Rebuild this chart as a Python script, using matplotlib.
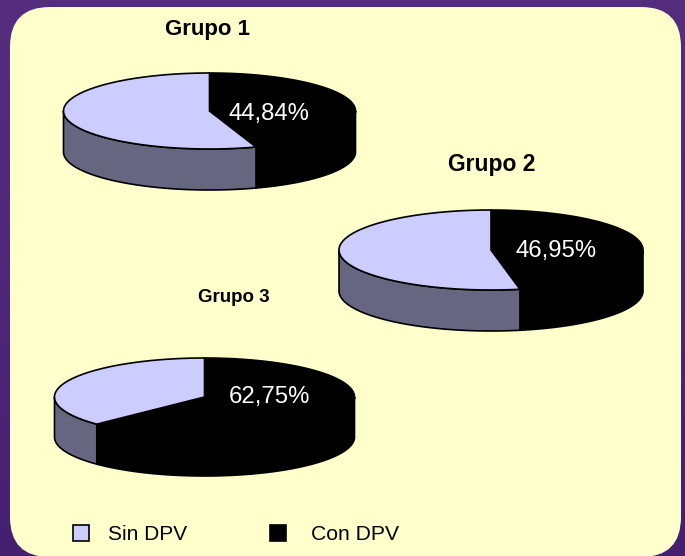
#coding:utf-8
import numpy as np
import matplotlib
matplotlib.use('Agg')
import matplotlib.pyplot as plt
from matplotlib.patches import FancyBboxPatch, Polygon, Rectangle

plt.rcParams['font.family'] = ['Liberation Sans', 'DejaVu Sans']

grupos = ['Grupo 1', 'Grupo 2', 'Grupo 3']
con_dpv = [44.84, 46.95, 62.75]
etiquetas = ['44,84%', '46,95%', '62,75%']
leyenda = ['Sin DPV', 'Con DPV']

LIGHT = '#ccccff'
SIDE = '#666680'
DARK = '#000000'

fig = plt.figure(figsize=(6.85, 5.56), dpi=100)
ax = fig.add_axes([0, 0, 1, 1])
ax.set_xlim(0, 685)
ax.set_ylim(556, 0)
ax.axis('off')

# fondo morado, un poco mas oscuro abajo
grad = np.linspace(0, 1, 256).reshape(-1, 1)
cmap = matplotlib.colors.LinearSegmentedColormap.from_list('fondo', ['#562e80', '#452070'])
ax.imshow(grad, extent=(0, 685, 556, 0), aspect='auto', cmap=cmap, zorder=0)

r = 40
panel = FancyBboxPatch((10 + r, 7 + r), 671 - 2 * r, 550 - 2 * r,
                       boxstyle='round,pad=%d,rounding_size=%d' % (r, r),
                       fc='#ffffcc', ec='none', zorder=1)
ax.add_patch(panel)


def punto(cx, cy, rx, ry, t):
    # t en grados, sentido horario desde arriba
    t = np.radians(t)
    return cx + rx * np.sin(t), cy - ry * np.cos(t)


def arco(cx, cy, rx, ry, t0, t1):
    t = np.linspace(t0, t1, 200)
    x, y = punto(cx, cy, rx, ry, t)
    return np.column_stack([x, y])


def pared(cx, cy, rx, ry, depth, t0, t1, color):
    # solo la parte delantera de la pared (90 a 270 grados)
    t0, t1 = max(t0, 90), min(t1, 270)
    if t0 >= t1:
        return
    a = arco(cx, cy, rx, ry, t0, t1)
    b = a[::-1] + [0, depth]
    ax.add_patch(Polygon(np.vstack([a, b]), closed=True, fc=color, ec='black', lw=1.2, zorder=2))


def torta(cx, cy, rx, ry, depth, pct):
    ang = pct * 3.6
    pared(cx, cy, rx, ry, depth, 0, ang, DARK)
    pared(cx, cy, rx, ry, depth, ang, 360, SIDE)
    for t0, t1, color in [(0, ang, DARK), (ang, 360, LIGHT)]:
        pts = np.vstack([[cx, cy], arco(cx, cy, rx, ry, t0, t1)])
        ax.add_patch(Polygon(pts, closed=True, fc=color, ec='black', lw=1.2, zorder=3))


geom = [(209.5, 111, 146, 38, 41), (491, 250, 152, 40, 41), (204.5, 397, 150, 39, 40)]
for g, pct in zip(geom, con_dpv):
    torta(g[0], g[1], g[2], g[3], g[4], pct)

ax.text(208, 30, grupos[0], fontsize=16, fontweight='bold', ha='center', va='center', zorder=5)
ax.text(491.5, 165, grupos[1], fontsize=16.5, fontweight='bold', ha='center', va='center', zorder=5)
ax.text(233.5, 298, grupos[2], fontsize=13.5, fontweight='bold', ha='center', va='center', zorder=5)

ax.text(269, 114, etiquetas[0], fontsize=17.2, color='white', ha='center', va='center', zorder=5)
ax.text(556, 251, etiquetas[1], fontsize=17.2, color='white', ha='center', va='center', zorder=5)
ax.text(269, 397, etiquetas[2], fontsize=17.2, color='white', ha='center', va='center', zorder=5)

ax.add_patch(Rectangle((73, 524.5), 16, 16, fc=LIGHT, ec='black', lw=1.2, zorder=5))
ax.add_patch(Rectangle((270, 524.5), 16, 16, fc=DARK, ec='black', lw=1.2, zorder=5))
ax.text(108, 534, leyenda[0], fontsize=15, ha='left', va='center', zorder=5)
ax.text(311, 534, leyenda[1], fontsize=15.2, ha='left', va='center', zorder=5)

plt.savefig('out.png', dpi=100)
